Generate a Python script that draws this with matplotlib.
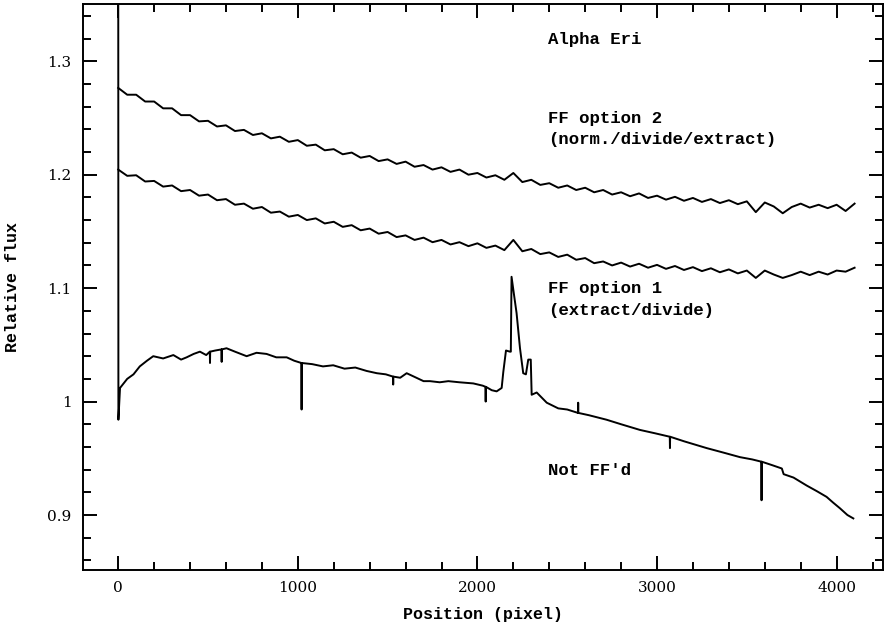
import numpy as np
import matplotlib
matplotlib.use("Agg")
import matplotlib.pyplot as plt
from matplotlib.ticker import MultipleLocator, FuncFormatter

# pixel grid for the two flat-fielded spectra (every 50 pixels)
pix = np.arange(0, 4101, 50)

# FF option 2 (norm./divide/extract)
opt2 = [1.2765, 1.2705, 1.2705, 1.2645, 1.2645, 1.2585, 1.2585, 1.2525, 1.2525, 1.247,
        1.2475, 1.2425, 1.2435, 1.2385, 1.2395, 1.235, 1.2365, 1.232, 1.2335, 1.229,
        1.2305, 1.2255, 1.2265, 1.2215, 1.2225, 1.218, 1.2195, 1.215, 1.2165, 1.212,
        1.2135, 1.2095, 1.2115, 1.207, 1.2085, 1.2045, 1.2065, 1.2025, 1.2045, 1.200,
        1.2015, 1.1975, 1.1995, 1.1955, 1.2015, 1.1935, 1.1955, 1.191, 1.1925, 1.1885,
        1.1905, 1.1865, 1.1885, 1.1845, 1.1865, 1.1825, 1.1845, 1.181, 1.1835, 1.1795,
        1.1815, 1.178, 1.1805, 1.177, 1.1795, 1.176, 1.1785, 1.175, 1.1775, 1.174,
        1.1765, 1.167, 1.1755, 1.172, 1.166, 1.1715, 1.1745, 1.171, 1.1735, 1.1705,
        1.1735, 1.168, 1.1745]

# FF option 1 (extract/divide)
opt1 = [1.2045, 1.199, 1.1995, 1.194, 1.1945, 1.1895, 1.1905, 1.1855, 1.1865, 1.1815,
        1.1825, 1.1775, 1.1785, 1.1735, 1.1745, 1.170, 1.1715, 1.1665, 1.1675, 1.163,
        1.1645, 1.160, 1.1615, 1.157, 1.1585, 1.154, 1.1555, 1.151, 1.1525, 1.148,
        1.1495, 1.145, 1.1465, 1.1425, 1.1445, 1.1405, 1.1425, 1.1385, 1.1405, 1.137,
        1.1395, 1.1355, 1.1375, 1.1335, 1.1425, 1.1325, 1.1345, 1.130, 1.1315, 1.1275,
        1.1295, 1.125, 1.1265, 1.122, 1.1235, 1.120, 1.1225, 1.119, 1.1215, 1.118,
        1.1205, 1.117, 1.1195, 1.116, 1.1185, 1.115, 1.1175, 1.114, 1.1165, 1.113,
        1.1155, 1.109, 1.1155, 1.112, 1.109, 1.1115, 1.1145, 1.1115, 1.1145, 1.112,
        1.1155, 1.1145, 1.118]

# Not FF'd spectrum (pixel, flux); first pixel is off the top of the plot
notff = [(0, 1.45), (1, 0.984), (10, 1.012), (50, 1.020), (85, 1.024), (120, 1.031),
         (160, 1.036), (195, 1.040), (250, 1.038), (307, 1.041), (350, 1.037), (381, 1.039),
         (420, 1.042), (455, 1.044), (490, 1.041), (510, 1.044), (511, 1.034), (512, 1.044),
         (540, 1.045), (575, 1.046), (576, 1.035), (577, 1.046), (603, 1.047), (650, 1.044),
         (715, 1.040), (770, 1.043), (826, 1.042), (880, 1.039), (938, 1.039), (980, 1.036),
         (1020, 1.034), (1021, 0.993), (1022, 1.034), (1080, 1.033), (1140, 1.031),
         (1197, 1.032), (1260, 1.029), (1320, 1.030), (1383, 1.027), (1440, 1.025),
         (1490, 1.024), (1530, 1.022), (1531, 1.015), (1532, 1.022), (1570, 1.021),
         (1606, 1.025), (1660, 1.021), (1700, 1.018), (1736, 1.018), (1790, 1.017),
         (1838, 1.018), (1900, 1.017), (1977, 1.016), (2030, 1.014), (2045, 1.013),
         (2046, 1.000), (2047, 1.013), (2080, 1.010), (2107, 1.009), (2135, 1.012),
         (2144, 1.026), (2159, 1.045), (2181, 1.044), (2186, 1.044), (2190, 1.110),
         (2203, 1.095), (2218, 1.078), (2237, 1.047), (2255, 1.025), (2270, 1.024),
         (2283, 1.037), (2297, 1.037), (2302, 1.006), (2330, 1.008), (2386, 0.999),
         (2450, 0.994), (2500, 0.993), (2560, 0.990), (2561, 0.999), (2562, 0.990),
         (2620, 0.988), (2719, 0.984), (2800, 0.980), (2905, 0.975), (2990, 0.972),
         (3071, 0.969), (3072, 0.959), (3073, 0.969), (3150, 0.965), (3276, 0.959),
         (3370, 0.955), (3462, 0.951), (3530, 0.949), (3581, 0.947), (3582, 0.913),
         (3583, 0.947), (3640, 0.944), (3695, 0.941), (3705, 0.936), (3760, 0.933),
         (3833, 0.926), (3890, 0.921), (3944, 0.916), (3980, 0.911), (4018, 0.906),
         (4060, 0.900), (4093, 0.897)]
notff_x, notff_y = zip(*notff)

labels = [("Alpha Eri", 2393, 1.3153),
          ("FF option 2", 2393, 1.2455),
          ("(norm./divide/extract)", 2393, 1.227),
          ("FF option 1", 2393, 1.0958),
          ("(extract/divide)", 2393, 1.0763),
          ("Not FF'd", 2393, 0.935)]

plt.rcParams['font.family'] = 'DejaVu Serif'
fig = plt.figure(figsize=(8.85, 6.3), dpi=100)
ax = fig.add_axes([0.0934, 0.0952, 0.9045, 0.8985])

lw = 1.4
ax.plot(pix, opt2, color='black', lw=lw)
ax.plot(pix, opt1, color='black', lw=lw)
ax.plot(notff_x, notff_y, color='black', lw=lw)

for txt, x, y in labels:
    ax.text(x, y, txt, fontsize=12.5, fontweight='bold', family='Liberation Mono',
            va='baseline', ha='left')

ax.set_xlim(-198, 4259)
ax.set_ylim(0.8515, 1.3505)
ax.xaxis.set_major_locator(MultipleLocator(1000))
ax.xaxis.set_minor_locator(MultipleLocator(200))
ax.yaxis.set_major_locator(MultipleLocator(0.1))
ax.yaxis.set_minor_locator(MultipleLocator(0.02))
ax.yaxis.set_major_formatter(FuncFormatter(lambda v, p: '%g' % round(v, 2)))

ax.tick_params(which='both', direction='in', top=True, right=True, width=lw)
ax.tick_params(which='major', length=10, labelsize=11, pad=8)
ax.tick_params(which='minor', length=6)
for s in ax.spines.values():
    s.set_linewidth(lw)

ax.set_xlabel('Position (pixel)', fontsize=12, fontweight='bold', family='Liberation Mono')
ax.set_ylabel('Relative flux', fontsize=12, fontweight='bold', family='Liberation Mono')
ax.xaxis.set_label_coords(0.5, -0.065)
ax.yaxis.set_label_coords(-0.078, 0.5)

fig.savefig('out.png', dpi=100)
